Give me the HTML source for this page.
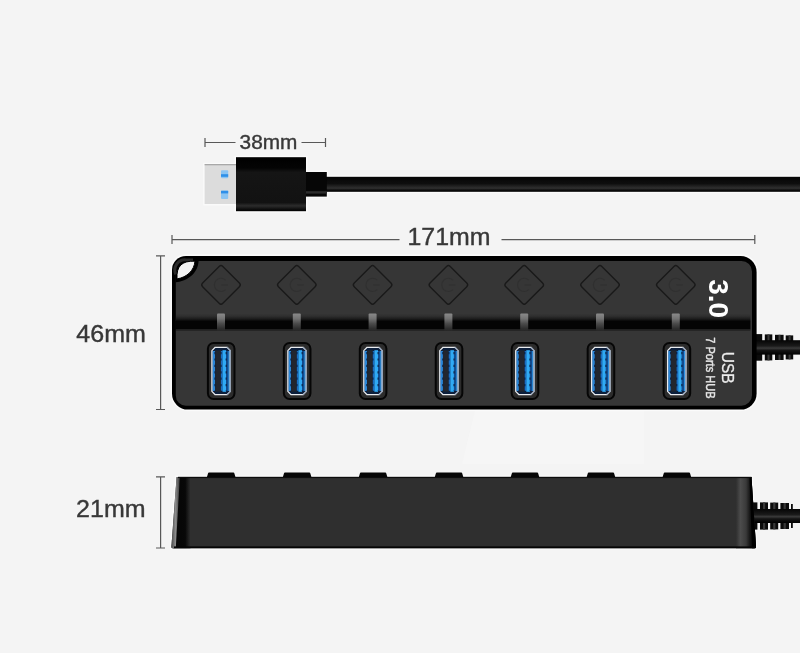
<!DOCTYPE html>
<html lang="en">
<head>
<meta charset="utf-8">
<title>7 Ports USB 3.0 HUB - dimensions</title>
<style>
html,body{margin:0;padding:0;background:#f4f4f4;}
body{width:800px;height:653px;overflow:hidden;position:relative;font-family:"Liberation Sans",sans-serif;}
svg{display:block;position:absolute;left:0;top:0;overflow:visible;will-change:transform;filter:blur(0.45px);}
text{font-family:"Liberation Sans",sans-serif;}
.dim{fill:#383838;stroke:#383838;stroke-width:0.4;}
.ln{stroke:#585858;stroke-width:1.2;fill:none;}
</style>
</head>
<body>
<svg width="800" height="653" viewBox="0 0 800 653">
<defs>
<linearGradient id="gv" x1="0" y1="0" x2="0" y2="1">
<stop offset="0" stop-color="#363636"/><stop offset="0.35" stop-color="#2e2e2e"/><stop offset="0.7" stop-color="#1c1c1c"/><stop offset="1" stop-color="#050505"/>
</linearGradient>
<linearGradient id="led" x1="0" y1="0" x2="0" y2="1">
<stop offset="0" stop-color="#8a8a8a"/><stop offset="0.3" stop-color="#747474"/><stop offset="0.6" stop-color="#4a4a4a"/><stop offset="0.9" stop-color="#2c2c2c"/><stop offset="1" stop-color="#2a2a2a"/>
</linearGradient>
<linearGradient id="cab" x1="0" y1="0" x2="0" y2="1">
<stop offset="0" stop-color="#050505"/><stop offset="0.45" stop-color="#0e0e0e"/><stop offset="0.76" stop-color="#303030"/><stop offset="0.9" stop-color="#0a0a0a"/><stop offset="1" stop-color="#000"/>
</linearGradient>
<linearGradient id="cab2" x1="0" y1="0" x2="0" y2="1">
<stop offset="0" stop-color="#050505"/><stop offset="0.4" stop-color="#1a1a1a"/><stop offset="0.55" stop-color="#3a3a3a"/><stop offset="0.7" stop-color="#151515"/><stop offset="1" stop-color="#000"/>
</linearGradient>
<linearGradient id="plug" x1="0" y1="0" x2="0" y2="1">
<stop offset="0" stop-color="#000"/><stop offset="0.2" stop-color="#040404"/><stop offset="0.28" stop-color="#151515"/><stop offset="0.84" stop-color="#121212"/><stop offset="0.9" stop-color="#2c2c2c"/><stop offset="0.96" stop-color="#101010"/><stop offset="1" stop-color="#000"/>
</linearGradient>
<linearGradient id="hl" x1="0" y1="0" x2="1" y2="0">
<stop offset="0" stop-color="#4a4a4a"/><stop offset="0.5" stop-color="#8c8c8c"/><stop offset="1" stop-color="#3a3a3a"/>
</linearGradient>
<linearGradient id="sideL" x1="0" y1="0" x2="1" y2="0">
<stop offset="0" stop-color="#050505"/><stop offset="0.7" stop-color="#080808"/><stop offset="1" stop-color="#2f2f2f"/>
</linearGradient>
<linearGradient id="sideR" x1="0" y1="0" x2="1" y2="0">
<stop offset="0" stop-color="#2f2f2f"/><stop offset="0.22" stop-color="#4c4c4c"/><stop offset="0.5" stop-color="#3a3a3a"/><stop offset="0.7" stop-color="#151515"/><stop offset="1" stop-color="#000"/>
</linearGradient>
<g id="port">
<rect x="-13.3" y="342.9" width="26.6" height="56.2" rx="5.8" ry="5.8" fill="#2c2c2c" stroke="#060606" stroke-width="2"/>
<path d="M-6 347.3H5.8L9.1 350.6V391.4L5.8 394.7H-6L-9.3 391.4V350.6Z" fill="#0c1f3c"/>
<rect x="-8.7" y="351" width="2.6" height="40" fill="#2a86d8"/>
<rect x="-6.1" y="350.4" width="5.8" height="41.2" fill="#22262e"/>
<rect x="-0.3" y="351" width="1.6" height="40" fill="#1a6ec4"/>
<rect x="1.3" y="350.2" width="3.6" height="41.6" fill="#30aaf5"/>
<rect x="4.9" y="351" width="2.2" height="40" fill="#124c90"/>
<rect x="7.1" y="351" width="1.7" height="40" fill="#2e92e2"/>
<path d="M-6.2 352V391M-0.2 352V391M5 352V391" stroke="#0c1f3c" stroke-width="1.1" stroke-dasharray="2.2 4.2" fill="none"/>
<path d="M-6 347.3H5.8L9.1 350.6V391.4L5.8 394.7H-6L-9.3 391.4V350.6Z" fill="none" stroke="#e9ecf0" stroke-width="1.25" stroke-linejoin="round"/>
<path d="M5.8 347.3L9.1 350.6V391.4L5.8 394.7" fill="none" stroke="#8f9db2" stroke-width="1.25" stroke-linejoin="round"/>
</g>
<g id="btn">
<rect x="-14.3" y="-14.3" width="28.6" height="28.6" rx="2.6" ry="2.6" transform="translate(0 284.9) rotate(45)" fill="#363636" stroke="#191919" stroke-width="1.4"/>
<path d="M4.6 280.2A6.6 6.6 0 1 0 4.6 289.6" fill="none" stroke="#303030" stroke-width="1.1"/>
<path d="M0.5 284.9H7" fill="none" stroke="#303030" stroke-width="1.1"/>
<path d="M-4 314.4 q0 -1 1 -1 h6 q1 0 1 1 V330.6 h-8Z" fill="url(#led)"/>
</g>
<g id="relief">
<rect x="756" y="-13.3" width="6.2" height="26.6" fill="#0b0b0b"/>
<rect x="764.8" y="-13" width="7.5" height="26" fill="#0b0b0b"/>
<rect x="775" y="-12.6" width="8.6" height="25.2" fill="#0b0b0b"/>
<rect x="785.7" y="-12" width="7.5" height="24" fill="#0b0b0b"/>
<rect x="767.5" y="-13" width="2" height="26" fill="#3a3a3a"/>
<rect x="778.5" y="-12.6" width="2" height="25.2" fill="#3a3a3a"/>
<rect x="788.6" y="-12" width="2" height="24" fill="#3a3a3a"/>
<rect x="755" y="-7.2" width="50" height="14.4" fill="url(#cab2)"/>
</g>
<g id="relief2">
<rect x="752" y="-13.6" width="5.4" height="27.2" fill="#0b0b0b"/>
<rect x="760" y="-13.6" width="8" height="27.2" fill="#0b0b0b"/>
<rect x="770.2" y="-13.4" width="8" height="26.8" fill="#0b0b0b"/>
<rect x="780.4" y="-13" width="8.6" height="26" fill="#0b0b0b"/>
<rect x="791" y="-12" width="1.8" height="24" fill="#0b0b0b"/>
<rect x="763" y="-13.6" width="2.2" height="27.2" fill="#383838"/>
<rect x="773.2" y="-13.4" width="2.2" height="26.8" fill="#383838"/>
<rect x="783.6" y="-13" width="2.2" height="26" fill="#383838"/>
<rect x="752" y="-7" width="53" height="14" fill="url(#cab2)"/>
</g>
</defs>
<rect x="-5" y="-5" width="810" height="663" fill="#f4f4f4"/>
<path d="M475 411H644V464H462Z" fill="#f9f9f9" opacity="0.45"/>

<g id="plug">
<path d="M204.6 164.2H236V157.2H306V172H326.8V176.8H806V191.8H326.8V196.6H306V211.2H236V204H204.6Z" fill="none" stroke="#fff" stroke-opacity="0.55" stroke-width="3"/>
<rect x="326" y="176.8" width="480" height="15" fill="url(#cab)"/>
<rect x="305" y="172" width="21.8" height="24.6" fill="#060606"/>
<rect x="306" y="191.2" width="20.8" height="2.4" fill="#2c2c2c"/>
<rect x="204.6" y="164.3" width="33" height="39.7" fill="#dcdcdc"/>
<rect x="204.6" y="164" width="33" height="1.3" fill="#a8a8a8"/>
<rect x="221" y="170.2" width="7.2" height="8" rx="1" fill="#8cc4f2"/>
<rect x="221" y="174.2" width="7.2" height="2.6" fill="#2f8fe8"/>
<rect x="221" y="190.5" width="7.2" height="8.4" rx="1" fill="#8cc4f2"/>
<rect x="221" y="190.8" width="7.2" height="2.6" fill="#2f8fe8"/>
<rect x="236" y="157.2" width="70" height="54" fill="url(#plug)"/>
</g>
<g id="d38">
<path class="ln" d="M205 138V147M205 142.5H235.5M301.5 142.5H325.5M325.5 138V147"/>
<text class="dim" x="239.6" y="148.8" font-size="20.2" textLength="57.8" lengthAdjust="spacingAndGlyphs">38mm</text>
</g>
<g id="d171">
<path class="ln" d="M172 235V244M172 239.6H399.5M501.5 239.6H754.8M754.8 235V244"/>
<text class="dim" x="407.5" y="244.7" font-size="24.4" textLength="83" lengthAdjust="spacingAndGlyphs">171mm</text>
</g>
<g id="d46">
<path class="ln" d="M156 255.8H165M160.6 255.8V409.5M156 409.5H165"/>
<text class="dim" x="76.3" y="342.3" font-size="24.4" textLength="69.6" lengthAdjust="spacingAndGlyphs">46mm</text>
</g>
<g id="d21">
<path class="ln" d="M156 476.8H165M160.6 476.8V548M156 548H165"/>
<text class="dim" x="76.1" y="517.1" font-size="24.4" textLength="69.4" lengthAdjust="spacingAndGlyphs">21mm</text>
</g>
<g id="hubtop">
<path d="M186 256H740.6A16 16 0 0 1 756.6 272V393.6A16 16 0 0 1 740.6 409.6H188A16 16 0 0 1 172 393.6V270A14 14 0 0 1 186 256Z" fill="none" stroke="#fff" stroke-opacity="0.6" stroke-width="3.4"/>
<use href="#relief" y="347.4"/>
<path d="M186 256H740.6A16 16 0 0 1 756.6 272V393.6A16 16 0 0 1 740.6 409.6H188A16 16 0 0 1 172 393.6V270A14 14 0 0 1 186 256Z" fill="#000"/>
<path d="M186 261H741.5A10.5 10.5 0 0 1 752 271.5V395.2A10.5 10.5 0 0 1 741.5 405.7H185.8A10 10 0 0 1 175.8 395.7V271A10 10 0 0 1 185.8 261Z" fill="#363636"/>
<rect x="176" y="313.6" width="574.4" height="7.6" fill="url(#gv)"/>
<rect x="175" y="321" width="575.4" height="8.2" fill="#040404"/>
<rect x="176" y="329.2" width="574.4" height="1.5" fill="#1e1e1e"/>
<path d="M175.5 282.3C189 280.8 198.5 272.3 198.6 260H186A11 11 0 0 0 175.5 271Z" fill="#000"/>
<path d="M175.8 274.4A10.2 10.2 0 0 1 186 259.9H193" fill="none" stroke="#2b2b2b" stroke-width="3"/>
<path d="M177 278.9C176.2 266 182 260.6 195 261.2C194.2 270.3 187.2 277.3 177 278.9Z" fill="#f3f3f3" stroke="#000" stroke-width="1"/>
<use href="#btn" x="221"/>
<use href="#btn" x="296.8"/>
<use href="#btn" x="372.6"/>
<use href="#btn" x="448.4"/>
<use href="#btn" x="524.2"/>
<use href="#btn" x="600"/>
<use href="#btn" x="675.8"/>
<use href="#port" x="221.2"/>
<use href="#port" x="297.15"/>
<use href="#port" x="373.1"/>
<use href="#port" x="449.05"/>
<use href="#port" x="525"/>
<use href="#port" x="600.95"/>
<use href="#port" x="676.9"/>
<text x="0" y="0" transform="translate(709 279.2) rotate(90)" font-size="28.5" font-weight="bold" fill="#fff" textLength="38.8" lengthAdjust="spacingAndGlyphs">3.0</text>
<text x="0" y="0" transform="translate(722 351.8) rotate(90)" font-size="16" fill="#ececec" stroke="#ececec" stroke-width="0.3" textLength="31.8" lengthAdjust="spacingAndGlyphs">USB</text>
<text x="0" y="0" transform="translate(705.6 337.2) rotate(90)" font-size="12.6" fill="#e6e6e6" stroke="#e6e6e6" stroke-width="0.4" textLength="61.4" lengthAdjust="spacingAndGlyphs">7 Ports HUB</text>
</g>
<g id="hubside">
<path d="M176.6 477 H751.5 L756 546.8 Q756 548.2 754.5 548.2 H172.6 Q171.3 548.2 171.4 546.8Z" fill="none" stroke="#fff" stroke-opacity="0.55" stroke-width="3"/>
<use href="#relief2" y="516"/>
<path d="M206.8 477.6 L208 473.4 Q208.2 472.6 209 472.6 H233.4 Q234.2 472.6 234.4 473.4 L235.6 477.6Z" fill="#060606"/>
<path d="M282.75 477.6 L283.95 473.4 Q284.15 472.6 284.95 472.6 H309.35 Q310.15 472.6 310.35 473.4 L311.55 477.6Z" fill="#060606"/>
<path d="M358.7 477.6 L359.9 473.4 Q360.1 472.6 360.9 472.6 H385.3 Q386.1 472.6 386.3 473.4 L387.5 477.6Z" fill="#060606"/>
<path d="M434.65 477.6 L435.85 473.4 Q436.05 472.6 436.85 472.6 H461.25 Q462.05 472.6 462.25 473.4 L463.45 477.6Z" fill="#060606"/>
<path d="M510.6 477.6 L511.8 473.4 Q512 472.6 512.8 472.6 H537.2 Q538 472.6 538.2 473.4 L539.4 477.6Z" fill="#060606"/>
<path d="M586.55 477.6 L587.75 473.4 Q587.95 472.6 588.75 472.6 H613.15 Q613.95 472.6 614.15 473.4 L615.35 477.6Z" fill="#060606"/>
<path d="M662.5 477.6 L663.7 473.4 Q663.9 472.6 664.7 472.6 H689.1 Q689.9 472.6 690.1 473.4 L691.3 477.6Z" fill="#060606"/>
<path d="M176.6 477 H751.5 L756 546.8 Q756 548.2 754.5 548.2 H172.6 Q171.3 548.2 171.4 546.8Z" fill="#2f2f2f"/>
<path d="M178 477 H190.5 V548.2 H173Z" fill="url(#sideL)"/>
<path d="M176.6 477 H179.8 L175.8 548.2 H172.6 Q171.3 548.2 171.4 546.8Z" fill="url(#hl)"/>
<path d="M736 477 H751.5 L756 546.8 Q756 548.2 754.5 548.2 H736Z" fill="url(#sideR)"/>
<path d="M749.5 477 H751.5 L756 546.8 Q756 548.2 754.5 548.2 H752Z" fill="#000"/>
<rect x="174" y="546.4" width="582" height="1.8" fill="#060606"/>
<rect x="178" y="476.8" width="573.5" height="1.3" fill="#0c0c0c"/>
</g>
</svg>
</body>
</html>
